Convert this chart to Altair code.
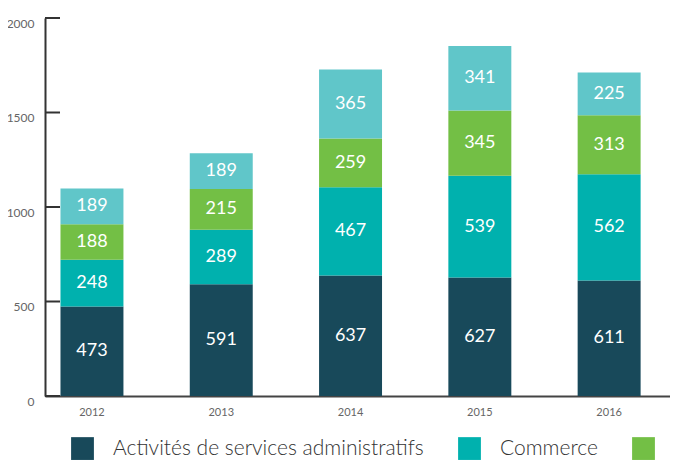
import altair as alt
import pandas as pd

years = ["2012", "2013", "2014", "2015", "2016"]
series = ["Activités de services administratifs", "Commerce", "Industrie", "Autres services"]
admin = [473, 591, 637, 627, 611]
commerce = [248, 289, 467, 539, 562]
industrie = [188, 215, 259, 345, 313]
autres = [189, 189, 365, 341, 225]
colors = ["#18495a", "#00b1ae", "#73bf45", "#60c6c9"]
y_ticks = [0, 500, 1000, 1500, 2000]

rows = []
for idx, (name, vals) in enumerate(zip(series, [admin, commerce, industrie, autres])):
    for yr, v in zip(years, vals):
        rows.append({"year": yr, "series": name, "value": v, "idx": idx})
df = pd.DataFrame(rows)

FONT = "Lato"

x_enc = alt.X(
    "year:N",
    sort=years,
    title=None,
    scale=alt.Scale(paddingInner=0.513, paddingOuter=0.1735, align=0.345),
    axis=alt.Axis(
        labelAngle=0, ticks=False, domainColor="#444", domainWidth=2,
        labelColor="#666", labelFont=FONT, labelFontSize=11, labelPadding=10,
        grid=False,
    ),
)

y_scale = alt.Scale(domain=[0, 2000])

bars = alt.Chart(df).mark_bar().encode(
    x=x_enc,
    y=alt.Y(
        "value:Q", stack="zero", scale=y_scale, title=None,
        axis=alt.Axis(
            values=y_ticks, format="d", ticks=False, grid=False, domainColor="#333",
            domainWidth=2, labelColor="#666", labelFont=FONT,
            labelFontSize=12, labelPadding=11, labelOffset=5,
        ),
    ),
    color=alt.Color(
        "series:N",
        scale=alt.Scale(domain=series, range=colors),
        legend=alt.Legend(
            orient="none", legendX=26, legendY=419, direction="horizontal",
            columns=4, title=None, symbolType="square", symbolSize=520,
            symbolStrokeWidth=0, symbolOpacity=1, labelFontSize=21,
            labelFont=FONT, labelFontWeight=300, labelColor="#333",
            labelOffset=19, columnPadding=34, labelLimit=0,
        ),
    ),
    order=alt.Order("idx:Q"),
)

labels = alt.Chart(df).transform_stack(
    stack="value", groupby=["year"], as_=["y0", "y1"],
    sort=[alt.SortField("idx", order="ascending")],
).transform_calculate(
    mid="(datum.y0 + datum.y1) / 2"
).mark_text(
    color="white", font=FONT, fontSize=18, baseline="middle", align="center"
).encode(
    x=alt.X("year:N", sort=years),
    y=alt.Y("mid:Q", scale=y_scale),
    text=alt.Text("value:Q"),
)

ticks = alt.Chart(pd.DataFrame({"v": y_ticks})).mark_rule(
    color="#333", strokeWidth=2
).encode(
    y=alt.Y("v:Q", scale=y_scale, title=None),
    x=alt.value(0),
    x2=alt.value(15),
)

chart = alt.layer(bars, labels, ticks).properties(
    width=625,
    height=378,
    autosize=alt.AutoSizeParams(type="none"),
    padding={"left": 37, "top": 10, "right": 0, "bottom": 64},
    background="white",
).configure_view(stroke=None)

chart.save("out.html", embed_options={"renderer": "svg", "actions": False})
